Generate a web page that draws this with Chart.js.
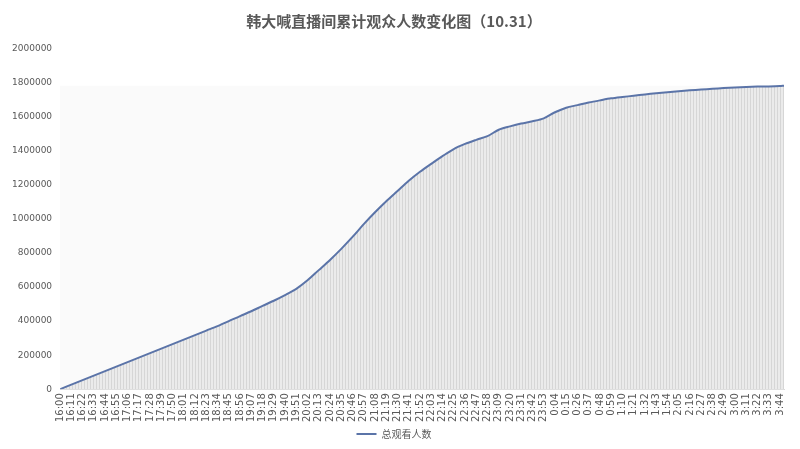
<!DOCTYPE html>
<html>
<head>
<meta charset="utf-8">
<script src="https://cdn.jsdelivr.net/npm/chart.js@4/dist/chart.umd.min.js"></script>
<style>
  html, body { margin: 0; padding: 0; background: #fff; }
  #wrap { width: 800px; height: 449px; }
</style>
</head>
<body>
<div id="wrap"><canvas id="chart" width="800" height="449"></canvas></div>
<script>
// minutes after 16:00, read at every labelled tick (plus the last point)
const minutes = [
  0, 11, 22, 33, 44, 55, 66, 77, 88, 99, 110, 121, 132, 143, 154, 165,
  176, 187, 198, 209, 220, 231, 242, 253, 264, 275, 286, 297, 308, 319, 330, 341,
  352, 363, 374, 385, 396, 407, 418, 429, 440, 451, 462, 473, 484, 495, 506, 517,
  528, 539, 550, 561, 572, 583, 594, 605, 616, 627, 638, 649, 660, 671, 682, 693,
  704, 708,
];

const viewers = [
  0, 26500, 53000, 79500, 106000, 132500, 159000, 185500, 212000, 238500, 265000, 291500, 318000, 344500, 371000, 400000,
  430000, 458000, 490000, 520000, 553000, 590000, 640000, 700000, 760000, 825000, 895000, 970000, 1040000, 1105000, 1165000, 1225000,
  1278000, 1325000, 1370000, 1412000, 1442000, 1466000, 1488000, 1525000, 1545000, 1562000, 1575000, 1592000, 1628000, 1655000, 1670000, 1685000,
  1698000, 1710000, 1718000, 1725000, 1733000, 1740000, 1746000, 1752000, 1757000, 1762000, 1766000, 1770000, 1774000, 1777000, 1779000, 1780000,
  1782000, 1784000,
];

const seriesName = "总观看人数";
const chartTitle = "韩大喊直播间累计观众人数变化图（10.31）";

function timeLabel(m) {
  const h = (16 + Math.floor(m / 60)) % 24;
  const mm = String(m % 60).padStart(2, "0");
  return h + ":" + mm;
}

// thin vertical drop-line look under the curve
function stripes() {
  const c = document.createElement("canvas");
  c.width = 3;
  c.height = 1;
  const g = c.getContext("2d");
  g.fillStyle = "#ebebeb";
  g.fillRect(0, 0, 3, 1);
  g.fillStyle = "#d6d6d6";
  g.fillRect(0, 0, 1, 1);
  return g.createPattern(c, "repeat");
}

const plotShade = {
  id: "plotShade",
  beforeDatasetsDraw(chart) {
    const { ctx, chartArea, scales } = chart;
    const top = scales.y.getPixelForValue(Math.max(...viewers));
    ctx.save();
    ctx.fillStyle = "#fafafa";
    ctx.fillRect(chartArea.left, top, chartArea.right - chartArea.left, chartArea.bottom - top);
    ctx.restore();
  },
};

const chart = new Chart(document.getElementById("chart"), {
  type: "line",
  data: {
    datasets: [
      {
        label: seriesName,
        data: minutes.map((m, i) => ({ x: m, y: viewers[i] })),
        borderColor: "#5b74a8",
        borderWidth: 2,
        backgroundColor: stripes(),
        fill: "origin",
        pointRadius: 0,
        tension: 0.3,
      },
    ],
  },
  plugins: [plotShade],
  options: {
    responsive: false,
    animation: false,
    layout: { padding: { left: 4, right: 16, top: 4, bottom: 0 } },
    plugins: {
      title: {
        display: true,
        text: chartTitle,
        color: "#595959",
        font: { family: "'Noto Sans CJK SC'", size: 15 },
        padding: { top: 8, bottom: 19 },
      },
      legend: {
        position: "bottom",
        labels: {
          color: "#595959",
          font: { family: "'Noto Sans CJK SC'", size: 10 },
          boxWidth: 20,
          boxHeight: 0,
          padding: 3,
        },
      },
      tooltip: { enabled: false },
    },
    scales: {
      x: {
        type: "linear",
        min: 0,
        max: 708,
        grid: { display: false, drawTicks: false },
        border: { color: "#d9d9d9" },
        ticks: {
          stepSize: 11,
          includeBounds: false,
          autoSkip: false,
          maxRotation: 90,
          minRotation: 90,
          color: "#595959",
          padding: 4,
          font: { family: "'DejaVu Sans'", size: 10 },
          callback: (v) => timeLabel(v),
        },
      },
      y: {
        min: 0,
        max: 2000000,
        grid: { display: false, drawTicks: false },
        border: { display: false },
        ticks: {
          stepSize: 200000,
          color: "#595959",
          font: { family: "'DejaVu Sans'", size: 9 },
          padding: 8,
          callback: (v) => String(v),
        },
      },
    },
  },
});
</script>
</body>
</html>
